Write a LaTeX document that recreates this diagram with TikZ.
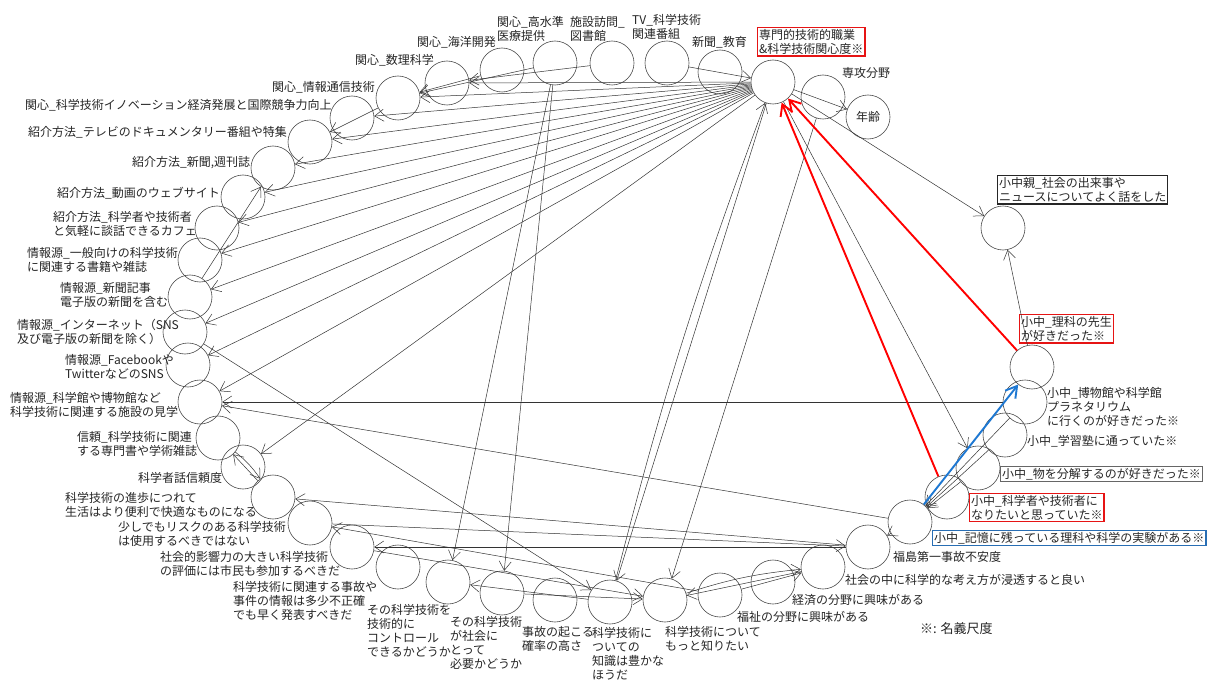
\documentclass[tikz,border=0pt]{standalone}
\usepackage{fontspec}
\setmainfont{Noto Sans CJK JP}
\usetikzlibrary{arrows.meta}
\definecolor{boxred}{RGB}{230,20,20}
\definecolor{boxblue}{RGB}{40,110,180}
\definecolor{arrblue}{RGB}{30,120,210}
\tikzset{
  var/.style={circle,draw=black!70,line width=0.6pt,minimum size=44pt,inner sep=0pt},
  lbl/.style={font={\fontsize{12}{14.2}\selectfont},align=left,inner sep=0pt,anchor=north west,text=black!85},
  tag/.style={lbl,draw=#1,line width=1.4pt,inner sep=1.5pt},
  link/.style={-{Straight Barb[length=9pt,width=12pt]},black!80,line width=0.5pt},
  hot/.style={-{Straight Barb[length=11pt,width=13pt]},line width=1.9pt,draw=#1},
}
\begin{document}
\begin{tikzpicture}[x=1pt,y=-1pt]
  \fill[white] (0,0) rectangle (1208,682);
  \useasboundingbox (0,0) rectangle (1208,682);
  % variables round the ring
  \foreach \n/\x/\y in {
    S/773/82, senko/823/97, nenrei/868/117, shinbun/720/72, tv/667/63,
    shisetsu/612/63, iryo/555/63, kaiyo/502/70, suri/447/83, joho/398/98,
    inov/352/118, tv2/310/142, shukan/273/168, doga/243/197, cafe/217/228,
    ippan/200/260, kiji/190/297, net/185/332, fb/188/365, kagakukan/200/402,
    shinrai/218/438, hanashi/243/467, shinpo/273/497, risk/310/523, eikyo/352/547,
    jiko/398/567, control/448/582, hitsuyo/502/593, kakuritsu/555/600, chishiki/610/602,
    motto/665/600, fukushi/720/595, keizai/773/582, shintou/823/567, fukushima/868/547,
    kioku/910/522, gijutsusha/947/497, bunkai/978/468, juku/1005/435, hakubutsu/1025/402,
    rika/1032/367, oya/1003/228}
    \node[var] (\n) at (\x,\y) {};
  % labels, top
  \node[lbl] (lIryo) at (497,16) {関心\_高水準\\医療提供};
  \node[lbl] (lShisetsu) at (570,16) {施設訪問\_\\図書館};
  \node[lbl] (lTv) at (632,14) {TV\_科学技術\\関連番組};
  \node[lbl] (lShinbun) at (692,36) {新聞\_教育};
  \node[tag=boxred] (lS) at (757,27) {専門的技術的職業\\\&科学技術関心度※};
  \node[lbl] (lSenko) at (842,67) {専攻分野};
  \node[lbl,anchor=center] (lNenrei) at (nenrei) {年齢};
  \node[lbl] (lKaiyo) at (417,36) {関心\_海洋開発};
  \node[lbl] (lSuri) at (355,54) {関心\_数理科学};
  \node[lbl] (lJoho) at (272,81) {関心\_情報通信技術};
  % labels, left
  \node[lbl] (lInov) at (25,99) {関心\_科学技術イノベーション経済発展と国際競争力向上};
  \node[lbl] (lTv2) at (28,126) {紹介方法\_テレビのドキュメンタリー番組や特集};
  \node[lbl] (lShukan) at (132,156) {紹介方法\_新聞,週刊誌};
  \node[lbl] (lDoga) at (57,187) {紹介方法\_動画のウェブサイト};
  \node[lbl] (lCafe) at (53,211) {紹介方法\_科学者や技術者\\と気軽に談話できるカフェ};
  \node[lbl] (lIppan) at (27,247) {情報源\_一般向けの科学技術\\に関連する書籍や雑誌};
  \node[lbl] (lKiji) at (60,282) {情報源\_新聞記事\\電子版の新聞を含む};
  \node[lbl] (lNet) at (17,319) {情報源\_インターネット（SNS\\及び電子版の新聞を除く）};
  \node[lbl] (lFb) at (65,354) {情報源\_Facebookや\\TwitterなどのSNS};
  \node[lbl] (lKagakukan) at (10,392) {情報源\_科学館や博物館など\\科学技術に関連する施設の見学};
  \node[lbl] (lShinrai) at (77,431) {信頼\_科学技術に関連\\する専門書や学術雑誌};
  \node[lbl] (lHanashi) at (138,472) {科学者話信頼度};
  \node[lbl] (lShinpo) at (65,492) {科学技術の進歩につれて\\生活はより便利で快適なものになる};
  \node[lbl] (lRisk) at (118,521) {少しでもリスクのある科学技術\\は使用するべきではない};
  \node[lbl] (lEikyo) at (160,551) {社会的影響力の大きい科学技術\\の評価には市民も参加するべきだ};
  % labels, bottom
  \node[lbl] (lJiko) at (233,581) {科学技術に関連する事故や\\事件の情報は多少不正確\\でも早く発表すべきだ};
  \node[lbl] (lControl) at (367,604) {その科学技術を\\技術的に\\コントロール\\できるかどうか};
  \node[lbl] (lHitsuyo) at (450,616) {その科学技術\\が社会に\\とって\\必要かどうか};
  \node[lbl] (lKakuritsu) at (522,626) {事故の起こる\\確率の高さ};
  \node[lbl] (lChishiki) at (592,627) {科学技術に\\ついての\\知識は豊かな\\ほうだ};
  \node[lbl] (lMotto) at (665,626) {科学技術について\\もっと知りたい};
  \node[lbl] (lFukushi) at (737,611) {福祉の分野に興味がある};
  \node[lbl] (lKeizai) at (792,594) {経済の分野に興味がある};
  \node[lbl] (lShintou) at (845,574) {社会の中に科学的な考え方が浸透すると良い};
  \node[lbl] (lFukushima) at (893,551) {福島第一事故不安度};
  \node[lbl,font={\fontsize{13}{15}\selectfont}] (lNote) at (920,622) {※: 名義尺度};
  % labels, right
  \node[tag=boxblue] (lKioku) at (932,530) {小中\_記憶に残っている理科や科学の実験がある※};
  \node[tag=boxred] (lGijutsusha) at (969,493) {小中\_科学者や技術者に\\なりたいと思っていた※};
  \node[tag=black!60] (lBunkai) at (1000,466) {小中\_物を分解するのが好きだった※};
  \node[lbl] (lJuku) at (1027,435) {小中\_学習塾に通っていた※};
  \node[lbl] (lHakubutsu) at (1047,387) {小中\_博物館や科学館\\プラネタリウム\\に行くのが好きだった※};
  \node[tag=boxred] (lRika) at (1019,314) {小中\_理科の先生\\が好きだった※};
  \node[tag=black!85] (lOya) at (997,175) {小中親\_社会の出来事や\\ニュースについてよく話をした};
  % paths
  \foreach \a/\b in {
    S/suri, S/joho, S/inov, S/tv2, S/shukan, S/doga, S/cafe, S/ippan, S/kiji,
    S/net, S/fb, S/kagakukan, S/hanashi,
    tv/S, S/nenrei, shisetsu/suri, iryo/joho, kaiyo/joho, joho/tv2,
    iryo/control, iryo/hitsuyo, S/chishiki, senko/motto, S/oya, S/bunkai,
    kiji/shukan, shinpo/shinrai,
    net/chishiki, fukushima/shinpo, fukushima/eikyo, risk/fukushima, fukushi/risk,
    eikyo/motto, chishiki/control, hitsuyo/motto, shintou/motto, fukushi/shintou,
    rika/oya, bunkai/kioku, juku/kioku, hakubutsu/kioku, kioku/fukushima,
    hakubutsu/kagakukan, kioku/kagakukan}
    \draw[link] (\a) -- (\b);
  \draw[link] (chishiki) to[bend left=3] (S);
  \draw[link] (shinrai) to[bend left=8] (shinpo);
  \draw[link] (motto) to[bend left=6] (shintou);
  % highlighted paths
  \draw[hot=arrblue] (kioku) -- (rika);
  \draw[hot=red] (rika) -- (S);
  \draw[hot=red] (gijutsusha) -- (S);
\end{tikzpicture}
\end{document}
